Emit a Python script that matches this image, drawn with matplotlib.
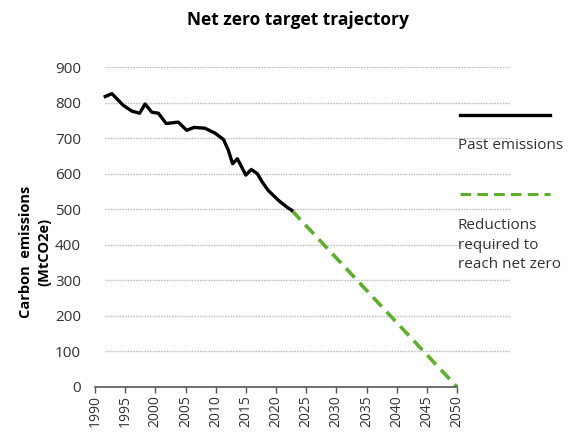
import matplotlib
matplotlib.use("Agg")
from matplotlib import pyplot as plt

plt.rcParams["font.family"] = ["Open Sans", "DejaVu Sans"]

# Past emissions (MtCO2e), as plotted against the year axis
past_years = [1991.7, 1992.8, 1994.7, 1996.1, 1997.4, 1998.3, 1999.4, 2000.5,
              2001.8, 2003.8, 2005.2, 2006.4, 2008.2, 2009.9, 2011.3, 2012.1,
              2012.8, 2013.6, 2015.0, 2015.9, 2016.9, 2017.7, 2018.7, 2020.4,
              2021.8, 2022.6]
past_values = [817, 825, 792, 776, 770, 796, 773, 770,
               741, 745, 722, 730, 728, 714, 696, 666,
               628, 642, 596, 612, 600, 577, 553, 525,
               506, 497]

# Straight-line path down to net zero
target_years = [2022.6, 2050]
target_values = [497, 0]

tick_years = list(range(1990, 2051, 5))
y_ticks = list(range(0, 901, 100))

GREEN = "#5fae2e"
TEXT = "#333333"

fig = plt.figure(figsize=(5.81, 4.34), dpi=100)
ax = fig.add_axes((0.1635, 0.1083, 0.7145, 0.7373))

ax.set_xlim(1990, 2058.8)
ax.set_ylim(0, 900)

for y in y_ticks[1:]:
    ax.axhline(y, xmin=0.024, xmax=1.0, color="#c0c0c0", lw=1.0,
               ls=(0, (1.2, 0.8)), zorder=1)

ax.plot(past_years, past_values, color="black", lw=2.4, zorder=3,
        solid_joinstyle="round")
ax.plot(target_years, target_values, color=GREEN, lw=2.6,
        ls=(0, (3.5, 2.0)), zorder=2)

for side in ("top", "right", "left"):
    ax.spines[side].set_visible(False)
ax.spines["bottom"].set_bounds(1990, 2050)
ax.spines["bottom"].set_color("#555555")
ax.spines["bottom"].set_linewidth(1.2)

ax.set_xticks(tick_years)
ax.set_xticklabels([str(y) for y in tick_years], rotation=90, fontsize=10,
                   color=TEXT)
ax.tick_params(axis="x", direction="out", length=4, width=1, color="#555555",
               pad=2)
ax.set_yticks(y_ticks)
ax.set_yticklabels([str(y) for y in y_ticks], fontsize=11, color=TEXT)
ax.tick_params(axis="y", length=0, pad=10)

fig.text(0.512, 0.955, "Net zero target trajectory", ha="center", va="center",
         fontsize=12.5, fontweight="bold", color="black")
fig.text(0.06, 0.42, "Carbon  emissions\n(MtCO2e)", ha="center",
         va="center", rotation=90, fontsize=10.5, fontweight="bold",
         color="black", linespacing=1.4)

# Key on the right-hand side
fig.add_artist(plt.Line2D([0.792, 0.947], [0.735, 0.735], color="black",
                          lw=2.4, transform=fig.transFigure))
fig.text(0.788, 0.665, "Past emissions", ha="left", va="center",
         fontsize=11, color=TEXT)
fig.add_artist(plt.Line2D([0.792, 0.947], [0.553, 0.553], color=GREEN,
                          lw=2.2, ls=(0, (3.5, 2.0)),
                          transform=fig.transFigure))
fig.text(0.788, 0.435, "Reductions\nrequired to\nreach net zero", ha="left",
         va="center", fontsize=11, color=TEXT, linespacing=1.4)

fig.savefig("out.png", dpi=100, facecolor="white")
